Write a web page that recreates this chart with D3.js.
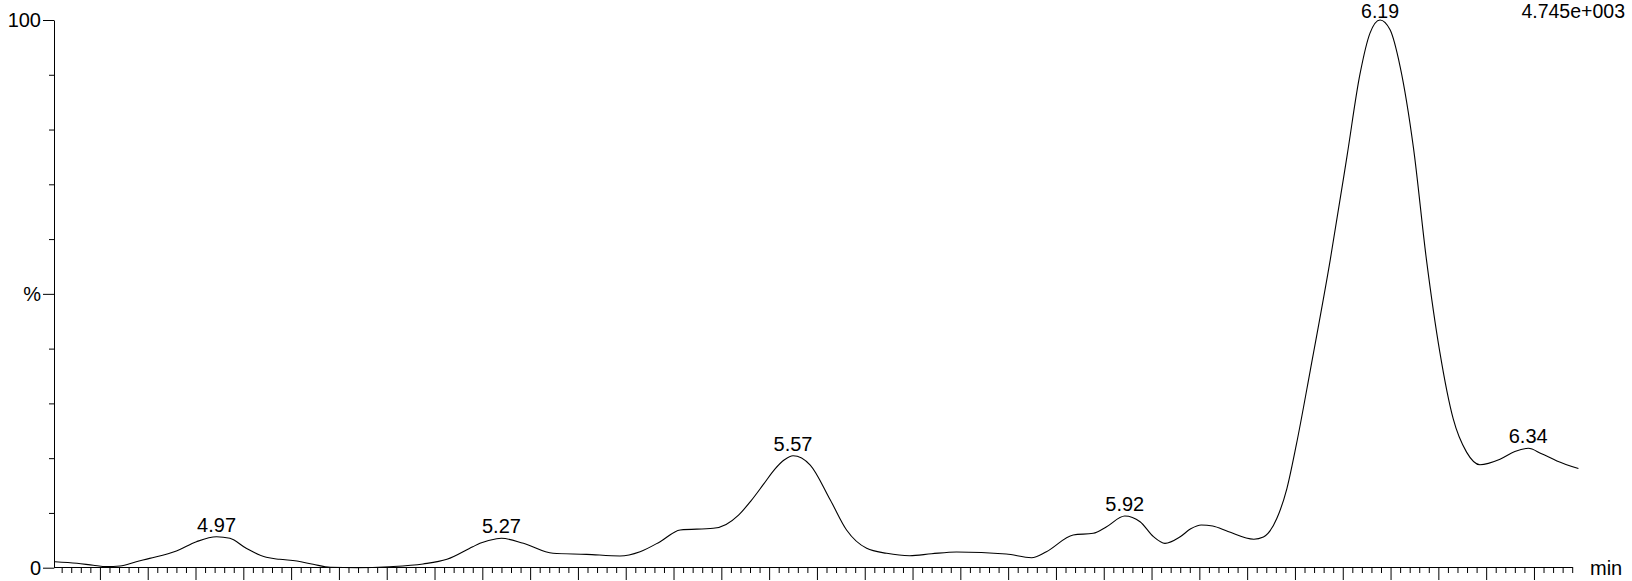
<!DOCTYPE html>
<html>
<head>
<meta charset="utf-8">
<script src="https://cdn.jsdelivr.net/npm/d3@7/dist/d3.min.js"></script>
<style>
  html, body { margin: 0; padding: 0; background: #fff; }
  svg { display: block; }
  text { font-family: "Liberation Sans", Arial, Helvetica, sans-serif; fill: #000; }
</style>
</head>
<body>
<svg id="chart" width="1632" height="581"></svg>
<script>
// Retention time (min) and relative intensity (%)
const times = [
  4.803, 4.826, 4.843, 4.857, 4.871, 4.888, 4.902, 4.930, 4.951, 4.972, 4.986,
  5.003, 5.024, 5.038, 5.056, 5.073, 5.091, 5.119, 5.153, 5.188, 5.213, 5.240,
  5.2475, 5.265, 5.270, 5.293, 5.324, 5.359, 5.394, 5.415, 5.436, 5.457, 5.4915,
  5.505, 5.518, 5.531, 5.544, 5.556, 5.566, 5.575, 5.593, 5.614, 5.631, 5.652, 5.673, 5.697,
  5.72, 5.746, 5.798, 5.8245, 5.840, 5.868, 5.889, 5.903, 5.922, 5.938, 5.952,
  5.964, 5.980, 5.991, 6.002, 6.014, 6.030, 6.057, 6.067, 6.081, 6.0915, 6.1015, 6.116, 6.137,
  6.1545, 6.168, 6.1785, 6.189, 6.1995, 6.210, 6.224, 6.2375, 6.2515, 6.2655,
  6.2795, 6.2935, 6.3145, 6.33, 6.344, 6.358, 6.374, 6.3965
];
const intensity = [
  1.1, 0.8, 0.45, 0.2, 0.3, 1.1, 1.7, 3.05, 4.75, 5.66, 5.37,
  3.54, 1.9, 1.53, 1.22, 0.62, 0.07, 0.0, 0.18, 0.68, 1.53, 3.83,
  4.45, 5.3, 5.37, 4.45, 2.63, 2.44, 2.14, 2.92, 4.75, 6.88, 7.19,
  7.9, 9.6, 12.2, 15.2, 18.0, 19.7, 20.45, 18.75, 12.36, 6.88, 3.54, 2.63, 2.19,
  2.55, 2.87, 2.5, 1.83, 2.92, 5.97, 6.28, 7.49, 9.44, 8.4, 5.66,
  4.45, 5.66, 7.1, 7.8, 7.6, 6.6, 5.2, 5.6, 8.98, 14.4, 22.5, 36.0, 56.3,
  75.2, 90.1, 97.6, 100, 98.2, 91.5, 76.6, 56.3, 39.4, 27.2,
  21.1, 18.8, 19.8, 21.2, 21.8, 20.8, 19.5, 18.1
];

// Peak annotations
const peakLabels = ["4.97", "5.27", "5.57", "5.92", "6.19", "6.34"];
const peakTimes = [4.972, 5.270, 5.575, 5.922, 6.189, 6.344];
const peakHeights = [5.66, 5.37, 20.45, 9.44, 100, 21.8];

// Axis ticks
const yMinorTicks = [10, 20, 30, 40, 60, 70, 80, 90];
const yMajorTicks = [0, 50, 100];
const yMajorLabels = ["0", "%", "100"];
const intensityLabel = "4.745e+003";
const xUnit = "min";

const svg = d3.select("#chart");
svg.append("rect").attr("width", 1632).attr("height", 581).attr("fill", "#fff");

const x = d3.scaleLinear().domain([4.8025, 6.39]).range([54.5, 1572.2]);
const y = d3.scaleLinear().domain([0, 100]).range([567.7, 20]);

// x ticks: minor every 0.01 min, major every 0.05 min
const xMinor = [], xMajor = [];
for (let i = 481; i <= 639; i++) {
  const v = i / 100;
  if (i % 5 === 0) xMajor.push(v); else xMinor.push(v);
}

const fontSize = 20;

const gx = svg.append("g").attr("transform", "translate(0,567)");
gx.call(d3.axisBottom(x).tickValues(xMinor).tickSize(6).tickSizeOuter(0).tickFormat(""));
gx.append("g").call(d3.axisBottom(x).tickValues(xMajor).tickSize(13).tickSizeOuter(0).tickFormat(""))
  .select(".domain").remove();
gx.selectAll("line, path").attr("stroke", "#000");

const gy = svg.append("g").attr("transform", "translate(54,0)");
gy.call(d3.axisLeft(y).tickValues(yMinorTicks).tickSize(5).tickSizeOuter(0).tickFormat(""));
const gyMaj = gy.append("g").call(
  d3.axisLeft(y).tickValues(yMajorTicks).tickSize(11).tickPadding(2)
    .tickFormat((d, i) => yMajorLabels[i])
);
gyMaj.select(".domain").remove();
gy.selectAll("line, path").attr("stroke", "#000");
gy.selectAll("text").attr("font-size", fontSize).attr("font-family", null).attr("fill", "#000");

// trace
const pts = times.map((t, i) => [t, intensity[i]]);
const line = d3.line().x(d => x(d[0])).y(d => y(d[1])).curve(d3.curveMonotoneX);
svg.append("path").datum(pts)
  .attr("d", line)
  .attr("fill", "none")
  .attr("stroke", "#000")
  .attr("stroke-width", 1.1);

// peak labels
svg.append("g").selectAll("text").data(peakLabels).join("text")
  .attr("x", (d, i) => x(peakTimes[i]))
  .attr("y", (d, i) => Math.max(y(peakHeights[i]) - 5, 18))
  .attr("text-anchor", "middle")
  .attr("font-size", (d, i) => peakHeights[i] >= 99 ? 19.5 : fontSize)
  .text(d => d);

svg.append("text").attr("x", 1625).attr("y", 18).attr("text-anchor", "end")
  .attr("font-size", 19.5).text(intensityLabel);

svg.append("text").attr("x", 1590).attr("y", 575).attr("text-anchor", "start")
  .attr("font-size", fontSize).text(xUnit);
</script>
</body>
</html>
